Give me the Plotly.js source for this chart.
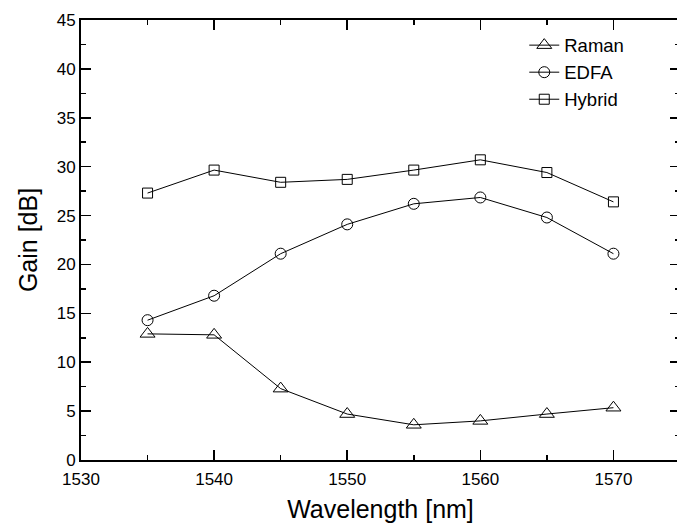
<!DOCTYPE html>
<html><head><meta charset="utf-8">
<script src="https://cdn.plot.ly/plotly-3.0.1.min.js"></script>
<style>html,body{margin:0;padding:0;overflow:hidden;background:#fff}</style>
</head><body><div id="chart"></div>
<script>
const wavelength = [1535, 1540, 1545, 1550, 1555, 1560, 1565, 1570];
const raman  = [12.9, 12.8, 7.3, 4.7, 3.6, 4.0, 4.7, 5.35];
const edfa   = [14.3, 16.8, 21.1, 24.1, 26.2, 26.85, 24.8, 21.1];
const hybrid = [27.3, 29.65, 28.4, 28.7, 29.65, 30.7, 29.4, 26.4];
const seriesNames = ['Raman', 'EDFA', 'Hybrid'];

const common = {type:'scatter', mode:'lines+markers', x: wavelength,
  line:{color:'#000', width:1}};
const traces = [
  Object.assign({}, common, {name: seriesNames[0], y: raman,
    marker:{symbol:'triangle-up-open', size:13, color:'#000', line:{width:1}}}),
  Object.assign({}, common, {name: seriesNames[1], y: edfa,
    marker:{symbol:'circle-open', size:11, color:'#000', line:{width:1}}}),
  Object.assign({}, common, {name: seriesNames[2], y: hybrid,
    marker:{symbol:'square-open', size:10, color:'#000', line:{width:1}}})
];

const FONT = 'Liberation Sans, Arial, sans-serif';
const axisCommon = {showgrid:false, zeroline:false, showline:true, linecolor:'#000',
  linewidth:2, mirror:'ticks', ticks:'inside', ticklen:10, tickwidth:1.5, tickcolor:'#000',
  tickfont:{family:FONT, size:17, color:'#000'}};

const layout = {
  width: 682, height: 526,
  margin:{l:81, r:2, t:20, b:66},
  paper_bgcolor:'#fff', plot_bgcolor:'#fff',
  font:{family:FONT, color:'#000'},
  showlegend:true,
  legend:{x:0.74, y:0.985, xanchor:'left', yanchor:'top', bgcolor:'rgba(0,0,0,0)',
    font:{size:18.5, color:'#000'}, itemwidth:30, tracegroupgap:0},
  xaxis: Object.assign({}, axisCommon, {range:[1530, 1575], tick0:1530, dtick:10,
    ticklabelstandoff:3,
    minor:{ticks:'inside', dtick:5, ticklen:5, tickwidth:1.5, tickcolor:'#000'},
    title:{text:'Wavelength [nm]', font:{size:25, color:'#000'}, standoff:12}}),
  yaxis: Object.assign({}, axisCommon, {range:[0, 45], tick0:0, dtick:5,
    minor:{ticks:'inside', dtick:2.5, ticklen:5, tickwidth:1.5, tickcolor:'#000'},
    title:{text:'Gain [dB]', font:{size:25, color:'#000'}, standoff:12}})
};

Plotly.newPlot('chart', traces, layout, {displayModeBar:false, staticPlot:true});
</script></body></html>
